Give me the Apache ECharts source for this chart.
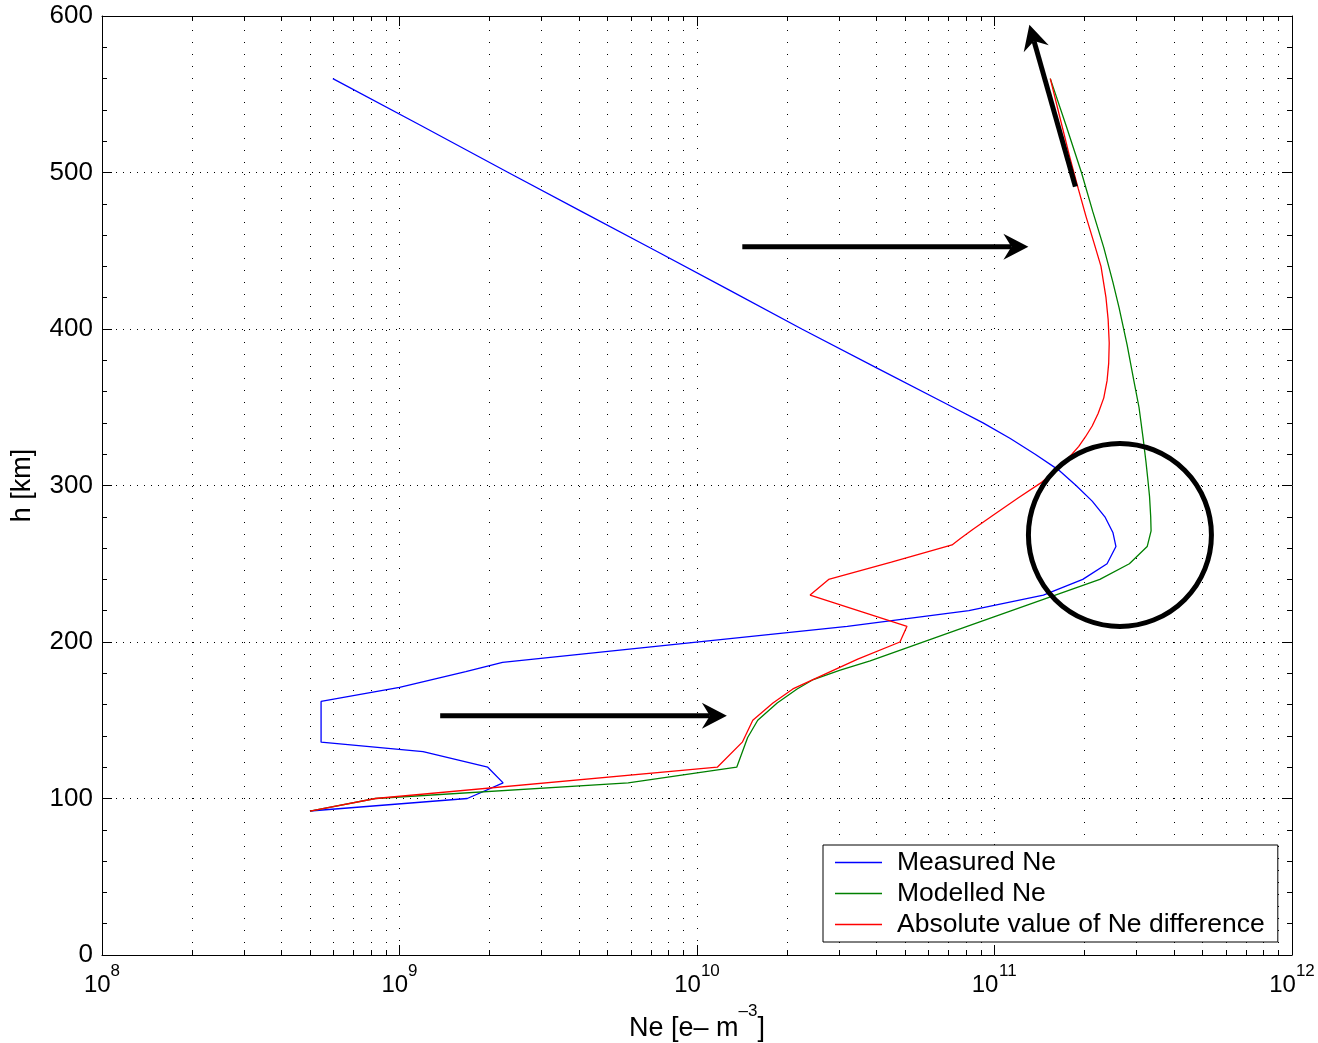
<!DOCTYPE html>
<html>
<head>
<meta charset="utf-8">
<script src="https://cdn.jsdelivr.net/npm/echarts@6/dist/echarts.min.js"></script>
<style>
  html, body { margin: 0; padding: 0; background: #ffffff; }
  #chart { width: 1318px; height: 1043px; }
</style>
</head>
<body>
<div id="chart"></div>
<script>
const FONT = '"Liberation Sans", Arial, Helvetica, sans-serif';

// Electron density profiles: altitude [km] and Ne [e- m^-3]
const measuredH  = [92, 100, 110, 120, 130, 136, 162, 171, 181, 187, 210, 220, 230, 240, 250, 261, 270, 280, 290, 300, 310, 320, 330, 340, 350, 375, 400, 425, 450, 475, 500, 530, 560];
const measuredNe = [5.0e8, 1.69e9, 2.23e9, 1.98e9, 1.2e9, 5.45e8, 5.45e8, 1.0e9, 1.67e9, 2.22e9, 3.2e10, 8.2e10, 1.46e11, 1.98e11, 2.39e11, 2.56e11, 2.5e11, 2.35e11, 2.13e11, 1.88e11, 1.64e11, 1.37e11, 1.13e11, 9.15e10, 7.25e10, 4.03e10, 2.25e10, 1.28e10, 7.26e9, 4.1e9, 2.32e9, 1.18e9, 5.97e8];

const modelledH  = [92, 100, 110, 120, 139, 150, 161, 170, 176, 182, 188, 210, 240, 250, 261, 271, 280, 293, 303, 315, 330, 350, 367, 390, 414, 430, 452, 475, 500, 530, 560];
const modelledNe = [5.0e8, 8.3e8, 5.87e9, 1.36e10, 1.48e10, 1.6e10, 1.86e10, 2.17e10, 2.46e10, 3.03e10, 3.82e10, 8.09e10, 2.26e11, 2.84e11, 3.26e11, 3.36e11, 3.35e11, 3.32e11, 3.28e11, 3.23e11, 3.16e11, 3.06e11, 2.94e11, 2.79e11, 2.62e11, 2.5e11, 2.33e11, 2.14e11, 1.96e11, 1.74e11, 1.54e11];

const diffH  = [92, 100, 120, 136, 150, 161, 170, 184, 189, 200, 210, 230, 240, 251, 262, 266, 272, 281, 292, 302, 311, 320, 325, 331, 338, 346, 356, 367, 378, 391, 406, 420, 440, 455, 472, 490, 510, 535, 560];
const diffNe = [5.0e8, 8.3e8, 1.17e10, 1.42e10, 1.54e10, 1.8e10, 2.1e10, 3.03e10, 3.47e10, 4.81e10, 5.08e10, 2.4e10, 2.77e10, 4.5e10, 7.2e10, 7.66e10, 8.47e10, 9.89e10, 1.2e11, 1.44e11, 1.64e11, 1.82e11, 1.92e11, 2.02e11, 2.13e11, 2.23e11, 2.33e11, 2.39e11, 2.42e11, 2.43e11, 2.41e11, 2.37e11, 2.28e11, 2.16e11, 2.03e11, 1.91e11, 1.79e11, 1.66e11, 1.54e11];

const seriesNames = ['Measured Ne', 'Modelled Ne', 'Absolute value of Ne difference'];

// Minor decade gridlines of the logarithmic Ne axis (2..9 x 10^n)
const minorNe = [];
for (let e = 8; e < 12; e++) {
  for (let m = 2; m <= 9; m++) minorNe.push(m * Math.pow(10, e));
}

// Annotation anchors in data units [Ne, h]
const arrowLow  = { from: [1.37e9, 152.8], to: [1.26e10, 152.8] };
const arrowMid  = { from: [1.42e10, 452.5], to: [1.3e11, 452.5] };
const arrowTop  = { from: [1.87e11, 491], to: [1.31e11, 594.4] };
const peakRing  = { center: [2.64e11, 268.4], radius: 91.5 };

function pairs(ne, h) { return ne.map((v, i) => [v, h[i]]); }
function decade(v) { return Math.round(Math.log10(v)); }

const chart = echarts.init(document.getElementById('chart'), null, { renderer: 'canvas' });

const BASE = 24, EXP = 17;
// width of "10" at the tick font, used to set the exponent beside it
const tenWidth = 2 * 0.556 * BASE;

const xCommon = {
  type: 'log', logBase: 10, min: 1e8, max: 1e12,
  axisLine: { show: true, onZero: false, lineStyle: { color: '#000', width: 1 } },
  axisTick: { show: true, inside: true, length: 10, lineStyle: { color: '#000', width: 1 } },
  splitLine: { show: false }
};
const yCommon = {
  type: 'value', min: 0, max: 600, interval: 100,
  axisLine: { show: true, onZero: false, lineStyle: { color: '#000', width: 1 } },
  axisTick: { show: true, inside: true, length: 10, lineStyle: { color: '#000', width: 1 } },
  minorTick: { show: true, splitNumber: 5, length: 5, lineStyle: { color: '#000', width: 1 } },
};

chart.setOption({
  animation: false,
  backgroundColor: '#ffffff',
  grid: { left: 102, right: 26, top: 16, bottom: 88, containLabel: false, outerBoundsMode: 'none' },
  xAxis: [
    Object.assign({}, xCommon, {
      position: 'bottom',
      axisLabel: {
        margin: 18, showMinLabel: true, showMaxLabel: true, hideOverlap: false,
        formatter: v => String(decade(v)).length > 1 ? '{w|10}' : '{n|10}',
        rich: {
          n: { fontFamily: FONT, fontSize: BASE, color: '#000', padding: [0, 0.556 * EXP, 0, 0] },
          w: { fontFamily: FONT, fontSize: BASE, color: '#000', padding: [0, 2 * 0.556 * EXP, 0, 0] }
        }
      },
      splitLine: { show: true, lineStyle: { color: '#000', width: 1, type: [1, 11] } },
      name: '{a|Ne [e– m}{s|–3}{a|]}',
      nameLocation: 'middle',
      nameGap: 48,
      nameTextStyle: {
        rich: {
          a: { fontFamily: FONT, fontSize: 27, color: '#000', padding: [12, 0, 0, 0] },
          s: { fontFamily: FONT, fontSize: 17, color: '#000', verticalAlign: 'top' }
        }
      }
    }),
    Object.assign({}, xCommon, {
      position: 'top',
      axisLabel: { show: false }
    }),
    // decade exponents, set as superscripts to the right of each "10"
    Object.assign({}, xCommon, {
      position: 'bottom',
      axisLine: { show: false },
      axisTick: { show: false },
      axisLabel: {
        margin: 8, showMinLabel: true, showMaxLabel: true, hideOverlap: false,
        formatter: v => '{e|' + decade(v) + '}',
        rich: { e: { fontFamily: FONT, fontSize: EXP, color: '#000', padding: [0, 0, 0, tenWidth] } }
      }
    })
  ],
  yAxis: [
    Object.assign({}, yCommon, {
      position: 'left',
      axisLabel: { margin: 9, fontFamily: FONT, fontSize: 26, color: '#000' },
      splitLine: { show: true, lineStyle: { color: '#000', width: 1, type: [1, 6] } },
      name: 'h [km]',
      nameLocation: 'middle',
      nameRotate: 90,
      nameGap: 66,
      nameTextStyle: { fontFamily: FONT, fontSize: 27, color: '#000' }
    }),
    Object.assign({}, yCommon, {
      position: 'right',
      axisLabel: { show: false },
      splitLine: { show: false }
    })
  ],
  legend: {
    data: seriesNames,
    orient: 'vertical',
    left: 823, top: 845,
    padding: [2, 13, 2, 12],
    itemGap: 0,
    itemWidth: 47, itemHeight: 1.5,
    icon: 'rect',
    backgroundColor: '#ffffff',
    borderColor: '#000', borderWidth: 1, borderRadius: 0,
    textStyle: { fontFamily: FONT, fontSize: 26.5, color: '#000', lineHeight: 31, padding: [0, 0, 0, 10] }
  },
  series: [
    {
      type: 'custom', silent: true, z: 1,
      xAxisIndex: 0, yAxisIndex: 0,
      data: minorNe.map(v => [v, 0]),
      encode: { x: 0, y: 1 },
      renderItem: function (params, api) {
        const v = api.value(0);
        const b = api.coord([v, 0]);
        const t = api.coord([v, 600]);
        const x = Math.round(b[0]) + 0.5;
        return {
          type: 'group',
          children: [
            { type: 'line', shape: { x1: x, y1: b[1], x2: x, y2: t[1] }, style: { stroke: '#000', lineWidth: 1, lineDash: [1, 11] } },
            { type: 'line', shape: { x1: x, y1: b[1], x2: x, y2: b[1] - 5 }, style: { stroke: '#000', lineWidth: 1 } },
            { type: 'line', shape: { x1: x, y1: t[1], x2: x, y2: t[1] + 5 }, style: { stroke: '#000', lineWidth: 1 } }
          ]
        };
      }
    },
    {
      name: seriesNames[0], type: 'line', z: 3, symbol: 'none',
      data: pairs(measuredNe, measuredH),
      lineStyle: { color: '#0000ff', width: 1.3 }, itemStyle: { color: '#0000ff' }
    },
    {
      name: seriesNames[1], type: 'line', z: 3, symbol: 'none',
      data: pairs(modelledNe, modelledH),
      lineStyle: { color: '#008000', width: 1.3 }, itemStyle: { color: '#008000' }
    },
    {
      name: seriesNames[2], type: 'line', z: 3, symbol: 'none',
      data: pairs(diffNe, diffH),
      lineStyle: { color: '#ff0000', width: 1.3 }, itemStyle: { color: '#ff0000' }
    }
  ]
});

// Thick black arrows and the ring marking the F-region peak
function toPx(p) { return chart.convertToPixel({ seriesIndex: 1 }, p); }

function arrow(spec) {
  const s = toPx(spec.from), t = toPx(spec.to);
  const dx = t[0] - s[0], dy = t[1] - s[1];
  const len = Math.hypot(dx, dy);
  const ux = dx / len, uy = dy / len, nx = -uy, ny = ux;
  const L = 25, W = 13, notch = 8;
  const back = [t[0] - ux * L, t[1] - uy * L];
  const neck = [t[0] - ux * (L - notch), t[1] - uy * (L - notch)];
  return [
    { type: 'line', z: 100, shape: { x1: s[0], y1: s[1], x2: neck[0], y2: neck[1] }, style: { stroke: '#000', lineWidth: 5, lineCap: 'butt' } },
    { type: 'polygon', z: 100, shape: { points: [t, [back[0] + nx * W, back[1] + ny * W], neck, [back[0] - nx * W, back[1] - ny * W]] }, style: { fill: '#000' } }
  ];
}

const c = toPx(peakRing.center);
chart.setOption({
  graphic: [].concat(
    arrow(arrowLow), arrow(arrowMid), arrow(arrowTop),
    [{ type: 'circle', z: 100, shape: { cx: c[0], cy: c[1], r: peakRing.radius }, style: { fill: 'none', stroke: '#000', lineWidth: 5 } }]
  )
});
</script>
</body>
</html>
